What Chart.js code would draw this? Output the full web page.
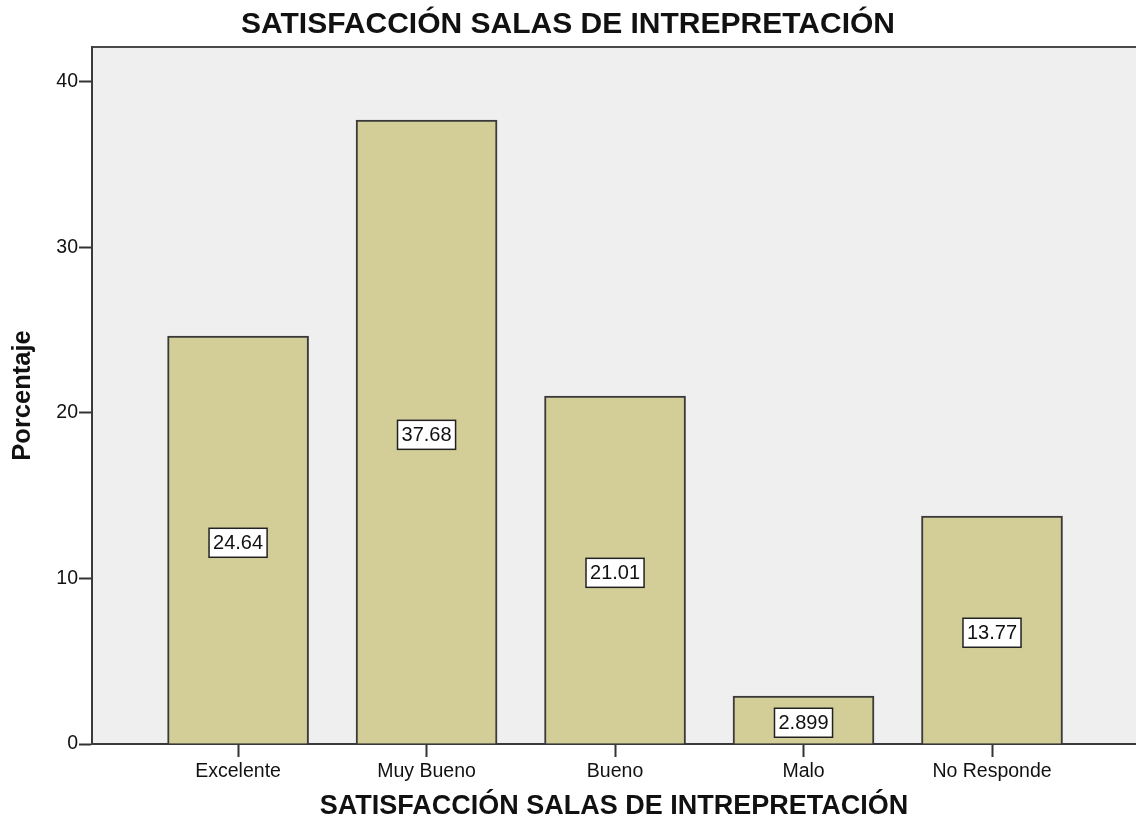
<!DOCTYPE html>
<html>
<head>
<meta charset="utf-8">
<script src="https://cdn.jsdelivr.net/npm/chart.js"></script>
<style>
  html, body { margin: 0; padding: 0; background: #fff; }
  #wrap { width: 1136px; height: 820px; }
</style>
</head>
<body>
<div id="wrap"><canvas id="satChart" width="1136" height="820"></canvas></div>
<script>
const categories = ["Excelente", "Muy Bueno", "Bueno", "Malo", "No Responde"]
const percentages = [24.64, 37.68, 21.01, 2.899, 13.77]
const yTicks = [0, 10, 20, 30, 40]

const chartTitle = "SATISFACCIÓN SALAS DE INTREPRETACIÓN"
const xTitle = "SATISFACCIÓN SALAS DE INTREPRETACIÓN"
const yTitle = "Porcentaje"

const FONT = "'Liberation Sans', Arial, sans-serif"

// grey plot background plus the top frame line
const plotBackground = {
  id: "plotBackground",
  beforeDraw(chart) {
    const { ctx, chartArea: { left, top, right, bottom } } = chart
    ctx.save()
    ctx.fillStyle = "#efefef"
    ctx.fillRect(left, top, right - left, bottom - top)
    ctx.strokeStyle = "#4a4a4a"
    ctx.lineWidth = 2
    ctx.beginPath()
    ctx.moveTo(left, top)
    ctx.lineTo(right, top)
    ctx.stroke()
    ctx.restore()
  },
}

// white boxed value labels in the middle of each bar
const boxLabels = {
  id: "boxLabels",
  afterDatasetsDraw(chart) {
    const { ctx } = chart
    const meta = chart.getDatasetMeta(0)
    ctx.save()
    ctx.font = "20px " + FONT
    ctx.textAlign = "center"
    ctx.textBaseline = "middle"
    meta.data.forEach((bar, i) => {
      const text = String(percentages[i])
      const cy = (bar.y + bar.base) / 2 + 3
      const w = ctx.measureText(text).width + 8
      const h = 29
      ctx.fillStyle = "#ffffff"
      ctx.fillRect(bar.x - w / 2, cy - h / 2, w, h)
      ctx.strokeStyle = "#222"
      ctx.lineWidth = 1.5
      ctx.strokeRect(bar.x - w / 2, cy - h / 2, w, h)
      ctx.fillStyle = "#111"
      ctx.fillText(text, bar.x, cy + 1)
    })
    ctx.restore()
  },
}

new Chart(document.getElementById("satChart").getContext("2d"), {
  type: "bar",
  data: {
    datasets: [
      {
        data: categories.map((c, i) => ({ x: i, y: percentages[i] })),
        backgroundColor: "#d3ce98",
        borderColor: "#3a3a3a",
        borderWidth: 2,
        barThickness: 141,
      },
    ],
  },
  options: {
    responsive: false,
    animation: false,
    layout: { padding: 0 },
    plugins: {
      legend: { display: false },
      tooltip: { enabled: false },
      title: {
        display: true,
        text: chartTitle,
        color: "#111",
        font: { family: FONT, size: 30, weight: "bold" },
        padding: { top: 6.5, bottom: 4.5 },
      },
    },
    scales: {
      x: {
        type: "linear",
        min: -0.775,
        max: 4.764,
        offset: false,
        afterFit(scale) {
          scale.height = 76
        },
        afterBuildTicks(scale) {
          scale.ticks = categories.map((c, i) => ({ value: i }))
        },
        ticks: {
          color: "#111",
          font: { family: FONT, size: 19.5 },
          padding: 3,
          maxRotation: 0,
          callback: (value) => categories[value],
        },
        grid: {
          offset: false,
          drawOnChartArea: false,
          drawTicks: true,
          tickLength: 13,
          tickColor: "#333",
          tickWidth: 2,
        },
        border: { display: true, color: "#3a3a3a", width: 2 },
        title: {
          display: true,
          text: xTitle,
          color: "#111",
          font: { family: FONT, size: 27, weight: "bold" },
          padding: { top: 0, bottom: -3 },
        },
      },
      y: {
        min: 0,
        max: 42.1,
        afterFit(scale) {
          scale.width = 92
        },
        afterBuildTicks(scale) {
          scale.ticks = yTicks.map((v) => ({ value: v }))
        },
        ticks: {
          color: "#111",
          font: { family: FONT, size: 19.5 },
          padding: 1,
        },
        grid: {
          drawOnChartArea: false,
          drawTicks: true,
          tickLength: 13,
          tickColor: "#333",
          tickWidth: 2,
        },
        border: { display: true, color: "#3a3a3a", width: 2 },
        title: {
          display: true,
          text: yTitle,
          color: "#111",
          font: { family: FONT, size: 25.5, weight: "bold" },
          padding: { top: 7.7, bottom: 0 },
        },
      },
    },
  },
  plugins: [plotBackground, boxLabels],
})
</script>
</body>
</html>
